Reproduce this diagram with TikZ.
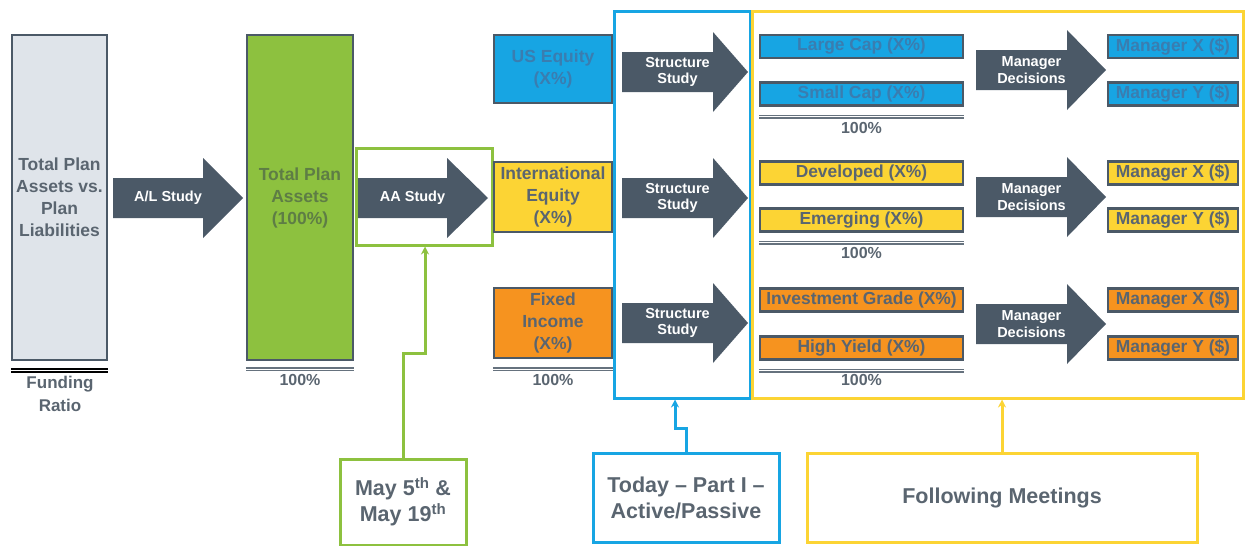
\documentclass[tikz,border=0pt]{standalone}
\usepackage{fontspec}
\setmainfont{Liberation Sans}
\usetikzlibrary{arrows.meta}
\definecolor{slate}{HTML}{4B5967}
\definecolor{inkgray}{HTML}{5A6570}
\definecolor{palegray}{HTML}{DFE4EA}
\definecolor{leaf}{HTML}{8DC13F}
\definecolor{leafink}{HTML}{5E7D45}
\definecolor{sky}{HTML}{17A5E3}
\definecolor{skyink}{HTML}{3A7DB0}
\definecolor{sun}{HTML}{FCD434}
\definecolor{tangerine}{HTML}{F6931F}
\tikzset{
    bar/.style={
        draw=slate,
        line width=2.5pt,
        inner sep=0pt,
        align=center,
        text=inkgray,
        font=\bfseries\fontsize{17.5}{22}\selectfont},
    slot/.style={
        bar,
        minimum width=203,
        minimum height=23,
        font=\bfseries\fontsize{17.4}{20}\selectfont},
    mgr/.style={
        slot,
        minimum width=130},
    flowtext/.style={
        text=white,
        align=center,
        inner sep=0pt,
        font=\bfseries\fontsize{14.5}{16.5}\selectfont},
    frame/.style={
        line width=3pt,
        inner sep=0pt},
    note/.style={
        draw,
        line width=3pt,
        inner sep=0pt,
        align=center,
        text=inkgray,
        font=\bfseries\fontsize{21.5}{26}\selectfont},
    total/.style={
        draw=slate!85,
        double,
        double distance=1.3pt,
        line width=1.2pt},
    sumtext/.style={
        text=inkgray,
        align=center,
        inner sep=0pt,
        font=\bfseries\fontsize{16}{22.5}\selectfont},
    link/.style={
        line width=3pt,
        -{Stealth[length=8pt,width=8pt]}}}

% name, start x, centre y, head x, tip x, label
\newcommand{\fatarrow}[6]{%
    \fill[slate] (#2,#3-20) -- (#4,#3-20) -- (#4,#3-40) -- (#5,#3)
        -- (#4,#3+40) -- (#4,#3+20) -- (#2,#3+20) -- cycle;
    \node[flowtext] (#1) at ({(#2+#4)/2+10},#3) {#6};}

\begin{document}
\begin{tikzpicture}[x=1pt,y=-1pt]
    \useasboundingbox (0,0) rectangle (1245,546);

    \node[frame,draw=leaf,minimum width=136,minimum height=97] (aaframe) at (424,196.5) {};
    \node[frame,draw=sky,minimum width=136,minimum height=387] (todayframe) at (682,204.5) {};
    \node[frame,draw=sun,minimum width=491,minimum height=387] (laterframe) at (997.5,204.5) {};

    \node[bar,fill=palegray,minimum width=95,minimum height=325] (plan) at (59.5,197.5)
        {Total Plan\\Assets vs.\\Plan\\Liabilities};
    \node[bar,fill=leaf,text=leafink,minimum width=106,minimum height=325] (assets) at (300,197.5)
        {Total Plan\\Assets\\(100\%)};

    \node[bar,fill=sky,text=skyink,minimum width=118,minimum height=68] (us) at (553,69) {US Equity\\(X\%)};
    \node[bar,fill=sun,minimum width=118,minimum height=70] (intl) at (553,197) {International\\Equity\\(X\%)};
    \node[bar,fill=tangerine,minimum width=118,minimum height=70] (fixed) at (553,323) {Fixed\\Income\\(X\%)};

    \node[slot,fill=sky,text=skyink] (large) at (861.5,46.5) {Large Cap (X\%)};
    \node[slot,fill=sky,text=skyink] (small) at (861.5,94) {Small Cap (X\%)};
    \node[slot,fill=sun] (developed) at (861.5,173) {Developed (X\%)};
    \node[slot,fill=sun] (emerging) at (861.5,220) {Emerging (X\%)};
    \node[slot,fill=tangerine] (grade) at (861.5,300) {Investment Grade (X\%)};
    \node[slot,fill=tangerine] (yield) at (861.5,348) {High Yield (X\%)};

    \node[mgr,fill=sky,text=skyink] (usx) at (1173,46.5) {Manager X (\$)};
    \node[mgr,fill=sky,text=skyink] (usy) at (1173,94) {Manager Y (\$)};
    \node[mgr,fill=sun] (intlx) at (1173,173) {Manager X (\$)};
    \node[mgr,fill=sun] (intly) at (1173,220) {Manager Y (\$)};
    \node[mgr,fill=tangerine] (fixedx) at (1173,300) {Manager X (\$)};
    \node[mgr,fill=tangerine] (fixedy) at (1173,348) {Manager Y (\$)};

    \fatarrow{alstudy}{113}{198}{203}{243}{A/L Study}
    \fatarrow{aastudy}{358}{198}{447}{488}{AA Study}
    \fatarrow{usstudy}{622}{72}{713}{748}{Structure\\Study}
    \fatarrow{intlstudy}{622}{198}{713}{748}{Structure\\Study}
    \fatarrow{fixedstudy}{622}{323}{713}{748}{Structure\\Study}
    \fatarrow{usdecide}{976}{70}{1067}{1106}{Manager\\Decisions}
    \fatarrow{intldecide}{976}{197}{1067}{1106}{Manager\\Decisions}
    \fatarrow{fixeddecide}{976}{324}{1067}{1106}{Manager\\Decisions}

    \draw[total,draw=black,line width=1.5pt,double distance=1.5pt] ([yshift=-9pt]plan.south west) -- ([yshift=-9pt]plan.south east);
    \draw[total] ([yshift=-8pt]assets.south west) -- ([yshift=-8pt]assets.south east);
    \draw[total] ([yshift=-10pt]fixed.south west) -- ([yshift=-10pt]fixed.south east);
    \draw[total] ([yshift=-10pt]small.south west) -- ([yshift=-10pt]small.south east);
    \draw[total] ([yshift=-10pt]emerging.south west) -- ([yshift=-10pt]emerging.south east);
    \draw[total] ([yshift=-10pt]yield.south west) -- ([yshift=-10pt]yield.south east);

    \node[sumtext,font=\bfseries\fontsize{17}{23}\selectfont] (funding) at (60,394) {Funding\\Ratio};
    \node[sumtext] (assetsum) at (300,380) {100\%};
    \node[sumtext] (classsum) at (553,380) {100\%};
    \node[sumtext] (ussum) at (861.5,128) {100\%};
    \node[sumtext] (intlsum) at (861.5,253) {100\%};
    \node[sumtext] (fixedsum) at (861.5,380) {100\%};

    \node[note,draw=leaf,minimum width=126,minimum height=86] (may) at (403,502)
        {May 5\textsuperscript{th} \&\\May 19\textsuperscript{th}};
    \node[note,draw=sky,minimum width=186,minimum height=89] (today) at (686,497.5)
        {Today -- Part I --\\Active/Passive};
    \node[note,draw=sun,minimum width=390,minimum height=89] (following) at (1002,497.5)
        {Following Meetings};

    \coordinate (mayjog) at (425,353);
    \coordinate (todayjog) at (675,428);
    \draw[link,leaf] (may.north) |- (mayjog) -- (mayjog |- aaframe.south);
    \draw[link,sky] (today.north) |- (todayjog) -- (todayjog |- todayframe.south);
    \draw[link,sun] (following.north) -- (following.north |- laterframe.south);
\end{tikzpicture}
\end{document}
